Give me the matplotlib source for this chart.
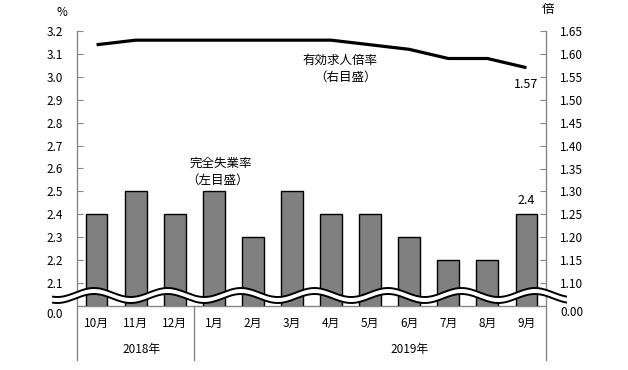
import numpy as np
import matplotlib
matplotlib.use("Agg")
import matplotlib.pyplot as plt
from matplotlib.lines import Line2D
from matplotlib.patches import Polygon
import matplotlib.transforms as mtransforms

plt.rcParams['font.family'] = ['Noto Sans CJK JP', 'DejaVu Sans']

months = ['10月', '11月', '12月', '1月', '2月', '3月', '4月', '5月', '6月', '7月', '8月', '9月']
years = ['2018年', '2019年']
unemployment = [2.4, 2.5, 2.4, 2.5, 2.3, 2.5, 2.4, 2.4, 2.3, 2.2, 2.2, 2.4]
job_ratio = [1.62, 1.63, 1.63, 1.63, 1.63, 1.63, 1.63, 1.62, 1.61, 1.59, 1.59, 1.57]
left_ticks = [2.1, 2.2, 2.3, 2.4, 2.5, 2.6, 2.7, 2.8, 2.9, 3.0, 3.1, 3.2]
right_ticks = [1.10, 1.15, 1.20, 1.25, 1.30, 1.35, 1.40, 1.45, 1.50, 1.55, 1.60, 1.65]

W, H = 628, 370
fig = plt.figure(figsize=(W / 100, H / 100), dpi=100)
L, R, T, B = 77, 546, 31, 306
ax = fig.add_axes([L / W, (H - B) / H, (R - L) / W, (B - T) / H])
ax2 = ax.twinx()

gray = '#868686'
x = np.arange(len(months))
ax.bar(x, unemployment, width=0.56, bottom=0, color='#808080', edgecolor='black', linewidth=1.0, zorder=2)
ax.set_ylim(2.0, 3.2)
ax.set_xlim(-0.5, len(months) - 0.5)
ax2.set_ylim(1.05, 1.65)
ax2.plot(x, job_ratio, color='black', linewidth=2.3, solid_capstyle='butt', zorder=3)

for a in (ax, ax2):
    for s in a.spines.values():
        s.set_visible(False)
    a.patch.set_visible(False)

ax.set_yticks(left_ticks)
ax.set_yticklabels([f'{v:.1f}' for v in left_ticks])
ax2.set_yticks(right_ticks)
ax2.set_yticklabels([f'{v:.2f}' for v in right_ticks])
ax.tick_params(axis='y', direction='in', length=4, width=0.8, color=gray, pad=10, labelsize=8.5)
ax2.tick_params(axis='y', direction='in', length=4, width=0.8, color=gray, pad=10, labelsize=8.5)
ax.set_xticks(x)
ax.set_xticklabels(months)
ax.tick_params(axis='x', length=0, pad=8, labelsize=8.5)

# axis lines (extended below to enclose the year row)
ext = -(360 - B) / (B - T)
for xa in (0, 1):
    ax.add_line(Line2D([xa, xa], [1, ext], transform=ax.transAxes, color=gray, lw=1.0, clip_on=False, zorder=1))
ax.add_line(Line2D([0, 1], [0, 0], transform=ax.transAxes, color=gray, lw=1.0, clip_on=False, zorder=1))
blend = mtransforms.blended_transform_factory(ax.transData, ax.transAxes)
ax.add_line(Line2D([2.5, 2.5], [0, ext], transform=blend, color=gray, lw=1.0, clip_on=False, zorder=1))

# year labels
ax.text(1.15, -(349 - B) / (B - T), years[0], transform=blend, ha='center', va='center', fontsize=8.5)
ax.text(8.0, -(349 - B) / (B - T), years[1], transform=blend, ha='center', va='center', fontsize=8.5)

# zero labels below the break
ax.text(-(L - 63) / (R - L), -(314 - B) / (B - T), '0.0', transform=ax.transAxes, ha='right', va='center', fontsize=8.5)
ax.text(1 + (560 - R) / (R - L), -(313 - B) / (B - T), '0.00', transform=ax.transAxes, ha='left', va='center', fontsize=8.5)

# unit labels
fig.text(62 / W, 1 - 13 / H, '%', ha='center', va='center', fontsize=8.5)
fig.text(548 / W, 1 - 10 / H, '倍', ha='center', va='center', fontsize=9)

# series labels
fig.text(377 / W, 1 - 60 / H, '有効求人倍率', ha='right', va='center', fontsize=9)
fig.text(377 / W, 1 - 77 / H, '（右目盛）', ha='right', va='center', fontsize=9)
fig.text(190 / W, 1 - 163 / H, '完全失業率', ha='left', va='center', fontsize=9)
fig.text(186 / W, 1 - 180 / H, '（左目盛）', ha='left', va='center', fontsize=9)
ax2.annotate(f'{job_ratio[-1]:.2f}', (x[-1], job_ratio[-1]), xytext=(0, -12), textcoords='offset points',
             ha='center', va='center', fontsize=9)
ax.annotate(f'{unemployment[-1]:.1f}', (x[-1], unemployment[-1]), xytext=(0, 10), textcoords='offset points',
            ha='center', va='center', fontsize=9)

# wavy break band
px = np.linspace(53, 566, 600)
up = 292.5 - 4.5 * np.cos(2 * np.pi * (px - 94) / 73.5)
lo = up + 6.0
def to_fig(xx, yy):
    return np.column_stack([xx / W, 1 - yy / H])
poly = np.vstack([to_fig(px, up), to_fig(px[::-1], lo[::-1])])
fig.add_artist(Polygon(poly, closed=True, facecolor='white', edgecolor='none', transform=fig.transFigure, zorder=5))
for yy in (up, lo):
    pts = to_fig(px, yy)
    fig.add_artist(Line2D(pts[:, 0], pts[:, 1], color='black', lw=1.4, transform=fig.transFigure, zorder=6))

fig.savefig('out.png', dpi=100)
